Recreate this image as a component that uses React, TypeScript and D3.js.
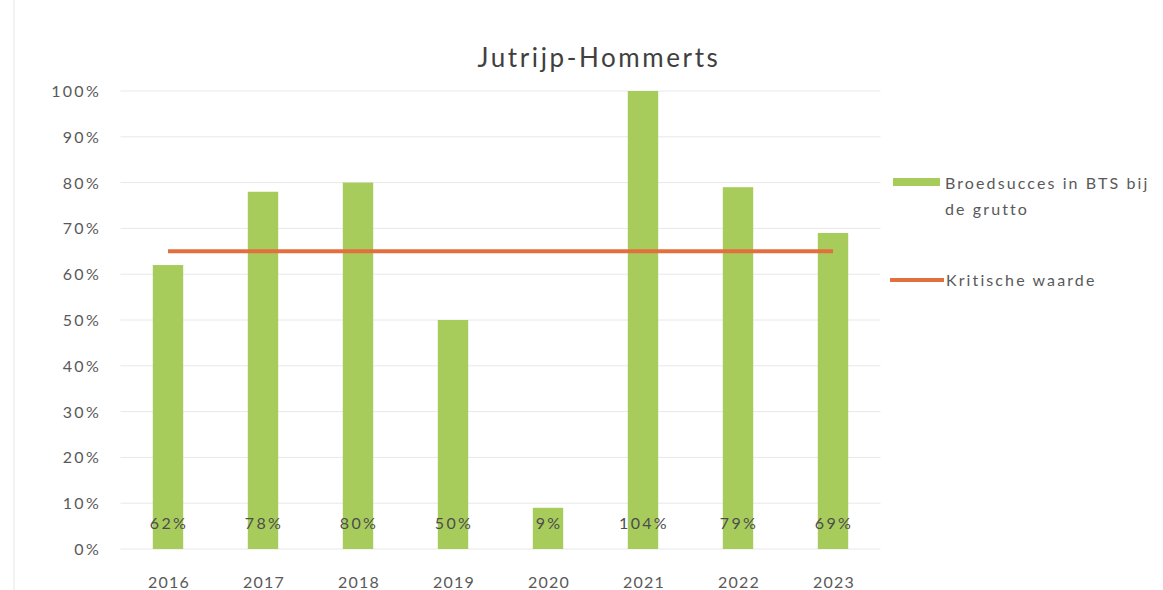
import React from "react";
import * as d3 from "d3";

const years = ["2016", "2017", "2018", "2019", "2020", "2021", "2022", "2023"];
const success = [62, 78, 80, 50, 9, 104, 79, 69];
const critical = [65, 65, 65, 65, 65, 65, 65, 65];
const yTicks = [0, 10, 20, 30, 40, 50, 60, 70, 80, 90, 100];
const title = "Jutrijp-Hommerts";
const legendBar = ["Broedsucces in BTS bij", "de grutto"];
const legendLine = "Kritische waarde";

const W = 1163;
const H = 590;
const left = 120.5;
const right = 880.5;
const top = 91;
const bottom = 549;
const font = "Lato, 'Open Sans', sans-serif";
const textColor = "#595959";
const barColor = "#A8CC5C";
const lineColor = "#E2703F";

export default function App() {
  const x = d3.scaleBand().domain(years).range([left, right]).paddingInner(0.68).paddingOuter(0.34);
  const y = d3.scaleLinear().domain([0, 100]).range([bottom, top]);
  const cx = (yr: string) => (x(yr) as number) + x.bandwidth() / 2;
  const line = d3
    .line<number>()
    .x((_, i) => cx(years[i]))
    .y((d) => y(d));

  return (
    <svg
      width={W}
      height={H}
      style={{ position: "absolute", left: 0, top: 0, background: "#fff" }}
      fontFamily={font}
    >
      <rect x={0} y={0} width={W} height={H} fill="#fff" />
      <line x1={14} x2={14} y1={0} y2={H} stroke="#e6e6e6" strokeWidth={1} />
      <text x={599} y={67} textAnchor="middle" fontSize={26} letterSpacing={2.6} fill="#404040">
        {title}
      </text>
      {yTicks.map((t) => (
        <g key={t}>
          <line x1={left} x2={right} y1={y(t)} y2={y(t)} stroke="#e8e8e8" strokeWidth={1} />
          <text x={101} y={y(t) + 6} textAnchor="end" fontSize={16} letterSpacing={2.3} fill={textColor}>
            {t}%
          </text>
        </g>
      ))}
      {years.map((yr, i) => (
        <rect
          key={yr}
          x={x(yr)}
          y={y(Math.min(success[i], 100))}
          width={x.bandwidth()}
          height={bottom - y(Math.min(success[i], 100))}
          fill={barColor}
        />
      ))}
      <path d={line(critical) || ""} fill="none" stroke={lineColor} strokeWidth={4} />
      {years.map((yr, i) => (
        <text key={"l" + yr} x={cx(yr) + 1} y={529} textAnchor="middle" fontSize={16} letterSpacing={2.3} fill="#4d4d4d">
          {success[i]}%
        </text>
      ))}
      {years.map((yr) => (
        <text key={"x" + yr} x={cx(yr) + 1} y={588} textAnchor="middle" fontSize={16} letterSpacing={1.2} fill={textColor}>
          {yr}
        </text>
      ))}
      <rect x={893} y={178} width={47} height={8} fill={barColor} />
      <text x={945} y={189} fontSize={16} letterSpacing={2.1} fill={textColor}>
        {legendBar[0]}
      </text>
      <text x={945} y={215} fontSize={16} letterSpacing={2.1} fill={textColor}>
        {legendBar[1]}
      </text>
      <line x1={890} x2={944} y1={280} y2={280} stroke={lineColor} strokeWidth={4} />
      <text x={946} y={286} fontSize={16} letterSpacing={2.1} fill={textColor}>
        {legendLine}
      </text>
    </svg>
  );
}
